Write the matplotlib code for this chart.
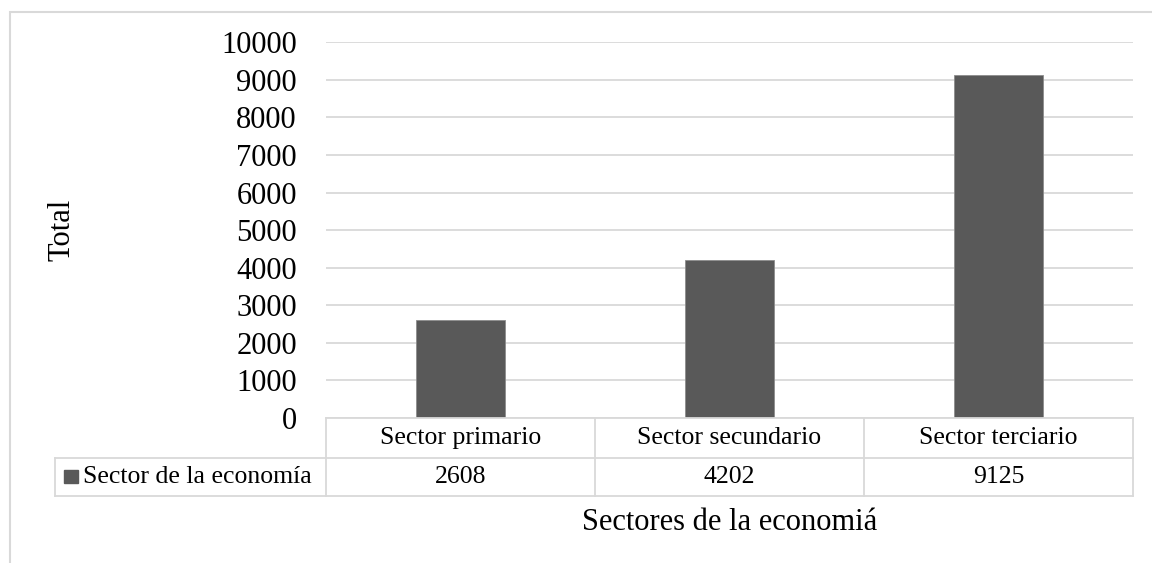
import matplotlib
matplotlib.use("Agg")
import matplotlib.pyplot as plt
from matplotlib.lines import Line2D
from matplotlib.patches import Rectangle
from matplotlib.transforms import blended_transform_factory

categories = ["Sector primario", "Sector secundario", "Sector terciario"]
values = [2608, 4202, 9125]
series_name = "Sector de la economía"
y_ticks = [0, 1000, 2000, 3000, 4000, 5000, 6000, 7000, 8000, 9000, 10000]

W, H = 1152, 563
BAR = "#595959"
GRID = "#d9d9d9"

plt.rcParams['font.family'] = ['Liberation Serif', 'DejaVu Serif']


def fy(py):
    # pixel row (from top) -> figure fraction
    return 1 - py / H


def fx(px):
    return px / W


fig = plt.figure(figsize=(W / 100, H / 100), dpi=100)
ax = fig.add_axes([fx(326), fy(418), fx(1133) - fx(326), fy(42.3) - fy(418)])

x = list(range(len(categories)))
ax.bar(x, values, width=0.33, color=BAR, edgecolor="#8c8c8c", linewidth=0.6, zorder=3)
ax.set_xlim(-0.5, len(categories) - 0.5)
ax.set_ylim(0, 10000)
ax.set_yticks(y_ticks)
ax.tick_params(axis="y", length=0, pad=21, labelsize=22)
ax.set_xticks([])
ax.grid(axis="y", color=GRID, linewidth=1.3, zorder=0)
for s in ax.spines.values():
    s.set_visible(False)

# outer chart border (cut off right and bottom)
fig.add_artist(Rectangle((fx(10), -0.1), 1.2, fy(12) + 0.1, transform=fig.transFigure,
                         fill=False, edgecolor=GRID, linewidth=1.5))

# data table
tr = blended_transform_factory(ax.transData, fig.transFigure)
top, mid, bot = fy(418), fy(457.7), fy(495.7)
lw = 1.3
for yy in (top, mid, bot):
    x0 = -0.5 if yy == top else None
    if x0 is None:
        fig.add_artist(Line2D([fx(55), fx(326)], [yy, yy], transform=fig.transFigure,
                              color=GRID, linewidth=lw))
    fig.add_artist(Line2D([-0.5, len(categories) - 0.5], [yy, yy], transform=tr,
                          color=GRID, linewidth=lw))
for i in range(len(categories) + 1):
    fig.add_artist(Line2D([i - 0.5, i - 0.5], [top, bot], transform=tr, color=GRID, linewidth=lw))
fig.add_artist(Line2D([fx(55), fx(55)], [mid, bot], transform=fig.transFigure,
                      color=GRID, linewidth=lw))

for i, (cat, val) in enumerate(zip(categories, values)):
    fig.text(i, (top + mid) / 2, cat, transform=tr, ha="center", va="center", fontsize=18.5)
    fig.text(i, (mid + bot) / 2, str(val), transform=tr, ha="center", va="center", fontsize=18.5)

fig.add_artist(Rectangle((fx(64), fy(483)), fx(13.5), fy(469.5) - fy(483),
                         transform=fig.transFigure, color=BAR))
fig.text(fx(83), (mid + bot) / 2, series_name, ha="left", va="center", fontsize=18.5)

fig.text(fx(62), fy(230), "Total", rotation=90, ha="center", va="center", fontsize=22)
fig.text(fx(729.5), fy(530), "Sectores de la economiá", ha="center", va="baseline", fontsize=22)

fig.savefig("out.png", dpi=100)
